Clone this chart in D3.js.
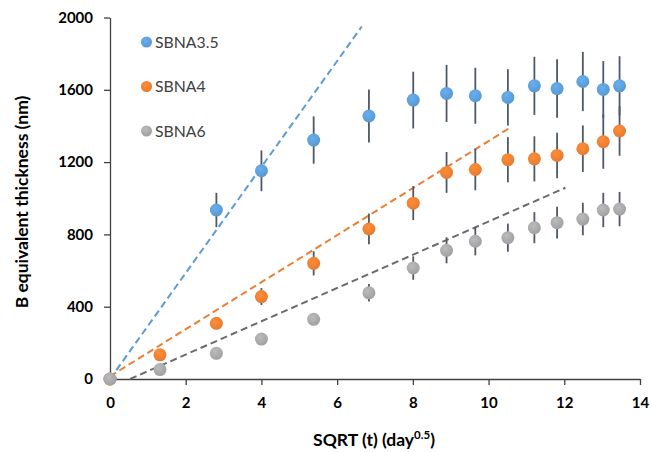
<!DOCTYPE html>
<html><head><meta charset="utf-8">
<script src="https://cdn.jsdelivr.net/npm/d3@7"></script>
<style>body{margin:0;background:#fff}svg{display:block}</style>
</head><body>
<svg id="c" width="651" height="452"></svg>
<script>
const xs = [0, 1.32, 2.81, 4.0, 5.38, 6.84, 8.01, 8.89, 9.65, 10.51, 11.21, 11.81, 12.49, 13.03, 13.46];
const blueY   = [0, null, 935, 1152, 1322, 1455, 1543, 1580, 1567, 1558, 1622, 1607, 1646, 1602, 1622];
const blueErr = [0, null, 95, 113, 131, 147, 157, 158, 155, 156, 161, 162, 164, 157, 164];
const orangeY   = [0, 134, 308, 456, 640, 830, 973, 1143, 1159, 1213, 1218, 1237, 1274, 1313, 1372];
const orangeErr = [0, 10, 20, 47, 67, 85, 94, 113, 115, 125, 125, 126, 129, 150, 137];
const grayY   = [0, 52, 142, 221, 330, 477, 614, 712, 762, 782, 837, 865, 885, 935, 940];
const grayErr = [0, 8, 10, 12, 22, 48, 65, 72, 78, 78, 86, 88, 90, 95, 95];
const seriesNames = ["SBNA3.5", "SBNA4", "SBNA6"];
const trendX = [[0, 6.65], [0, 10.55], [0.53, 12.03]];
const trendY = [[0, 1950], [15, 1388], [0, 1058]];
const xTicks = [0, 2, 4, 6, 8, 10, 12, 14];
const yTicks = [0, 400, 800, 1200, 1600, 2000];

const colors = ["#5B9BD5", "#ED7D31", "#A5A5A5"];
const trendColors = ["#5B9BD5", "#ED7D31", "#6b6b6b"];
const svg = d3.select("#c");
const x = d3.scaleLinear().domain([0, 14]).range([110, 640]);
const y = d3.scaleLinear().domain([0, 2000]).range([379, 17.5]);
const font = "Lato, 'Open Sans', sans-serif";

const defs = svg.append("defs");
colors.forEach((c, i) => {
  const g = defs.append("radialGradient").attr("id", "g" + i).attr("cx", "40%").attr("cy", "35%").attr("r", "70%");
  g.append("stop").attr("offset", "0%").attr("stop-color", d3.color(c).brighter(0.35));
  g.append("stop").attr("offset", "100%").attr("stop-color", d3.color(c).darker(0.1));
});

// axes
const xAxis = svg.append("g").attr("transform", `translate(0,${y(0)})`)
  .call(d3.axisBottom(x).tickValues(xTicks).tickFormat(d3.format("d")).tickSize(6).tickSizeOuter(0).tickPadding(12));
const yAxis = svg.append("g").attr("transform", `translate(${x(0)},0)`)
  .call(d3.axisLeft(y).tickValues(yTicks).tickFormat(d3.format("d")).tickSize(6).tickSizeOuter(0).tickPadding(11));
[xAxis, yAxis].forEach(a => {
  a.select(".domain").attr("stroke", "#404040").attr("stroke-width", 1.3);
  a.selectAll(".tick line").attr("stroke", "#404040").attr("stroke-width", 1.3);
  a.selectAll(".tick text").attr("font-family", font).attr("font-weight", "bold")
    .attr("font-size", 15).attr("fill", "#000");
});
xAxis.selectAll(".tick text").attr("dy", "0.75em");

// trendlines
trendX.forEach((tx, i) => {
  svg.append("line").attr("x1", x(tx[0])).attr("y1", y(trendY[i][0]))
    .attr("x2", x(tx[1])).attr("y2", y(trendY[i][1]))
    .attr("stroke", trendColors[i]).attr("stroke-width", 2).attr("stroke-dasharray", "7,4");
});

const series = [[blueY, blueErr], [orangeY, orangeErr], [grayY, grayErr]];
// error bars
series.forEach(([ys, es]) => {
  xs.forEach((xv, j) => {
    if (ys[j] == null || !es[j]) return;
    svg.append("line").attr("x1", x(xv)).attr("x2", x(xv))
      .attr("y1", y(ys[j] - es[j])).attr("y2", y(ys[j] + es[j]))
      .attr("stroke", "#4f5866").attr("stroke-width", 1.8);
  });
});
// markers
series.forEach(([ys], i) => {
  svg.append("g").selectAll("circle").data(xs.map((xv, j) => [xv, ys[j]]).filter(d => d[1] != null))
    .join("circle").attr("cx", d => x(d[0])).attr("cy", d => y(d[1])).attr("r", 6.5)
    .attr("fill", `url(#g${i})`);
});

// legend
seriesNames.forEach((n, i) => {
  const ly = 42 + i * 44.5;
  svg.append("circle").attr("cx", 146.5).attr("cy", ly).attr("r", 5.5).attr("fill", `url(#g${i})`);
  svg.append("text").attr("x", 155).attr("y", ly).attr("dy", "0.36em")
    .attr("font-family", font).attr("font-size", 15.8).attr("fill", "#404040").text(n);
});

// axis titles
svg.append("text").attr("transform", "translate(28,202) rotate(-90)").attr("text-anchor", "middle")
  .attr("font-family", font).attr("font-weight", "bold").attr("font-size", 17.5).attr("fill", "#000")
  .text("B equivalent thickness (nm)");
const xt = svg.append("text").attr("x", 374).attr("y", 446).attr("text-anchor", "middle")
  .attr("font-family", font).attr("font-weight", "bold").attr("font-size", 17.5).attr("fill", "#000");
xt.append("tspan").text("SQRT (t) (day");
xt.append("tspan").attr("dy", -7).attr("font-size", 11.5).text("0.5");
xt.append("tspan").attr("dy", 7).text(")");
</script>
</body></html>
